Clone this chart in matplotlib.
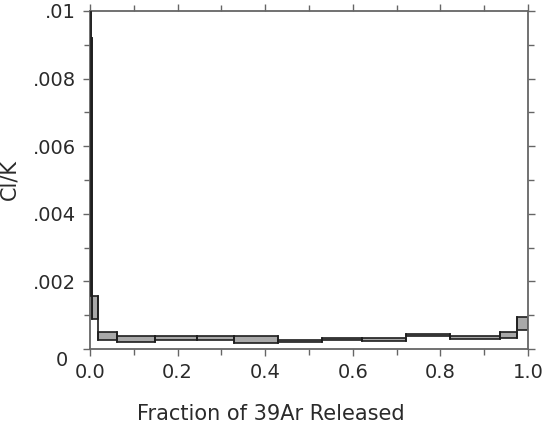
import matplotlib
matplotlib.use("Agg")
import matplotlib.pyplot as plt
from matplotlib.patches import Rectangle
from matplotlib.transforms import ScaledTranslation
from matplotlib.ticker import MultipleLocator

# Cumulative fraction of 39Ar released at each step boundary
fraction_edges = [0.0, 0.0016, 0.0053, 0.019, 0.0623, 0.1477, 0.2436, 0.3295,
                  0.4299, 0.5304, 0.6217, 0.7215, 0.8219, 0.9368, 0.9742, 1.0]
# Cl/K lower and upper bounds for each heating step
clk_low = [0.0092, 0.00157, 0.00088, 0.00026, 0.00021, 0.00027, 0.00027,
           0.00019, 0.00020, 0.00026, 0.00025, 0.00038, 0.00030, 0.00032, 0.00057]
clk_high = [0.0130, 0.0092, 0.00157, 0.00051, 0.00038, 0.00038, 0.00038,
            0.00039, 0.00026, 0.00032, 0.00032, 0.00045, 0.00038, 0.00051, 0.00095]
fill_colors = ["#2a2a2a"] + ["#a9a9a9"] * 14

x_ticks = [0.0, 0.2, 0.4, 0.6, 0.8, 1.0]
x_tick_labels = ["0.0", "0.2", "0.4", "0.6", "0.8", "1.0"]
y_ticks = [0.0, 0.002, 0.004, 0.006, 0.008, 0.01]
y_tick_labels = ["0", ".002", ".004", ".006", ".008", ".01"]

plt.rcParams["font.family"] = ["DejaVu Sans"]

fig = plt.figure(figsize=(5.5, 4.33), dpi=100)
ax = fig.add_axes([90 / 550, 1 - 349 / 433, 438 / 550, 338 / 433])

edge = "#1e1e1e"
for i in range(len(clk_low)):
    x0, x1 = fraction_edges[i], fraction_edges[i + 1]
    ax.add_patch(Rectangle((x0, clk_low[i]), x1 - x0, clk_high[i] - clk_low[i],
                           facecolor=fill_colors[i], edgecolor=edge,
                           linewidth=1.2, zorder=2))

# vertical risers joining neighbouring steps
for i in range(len(clk_low) - 1):
    xb = fraction_edges[i + 1]
    lo = min(clk_low[i], clk_low[i + 1])
    hi = max(clk_high[i], clk_high[i + 1])
    ax.plot([xb, xb], [lo, hi], color=edge, linewidth=1.2, zorder=3)

ax.set_xlim(0, 1.0)
ax.set_ylim(0, 0.01)
ax.set_xticks(x_ticks)
ax.set_xticklabels(x_tick_labels)
ax.set_yticks(y_ticks)
ax.set_yticklabels(y_tick_labels)
ax.xaxis.set_minor_locator(MultipleLocator(0.1))
ax.yaxis.set_minor_locator(MultipleLocator(0.001))

spine_color = "#666666"
for s in ax.spines.values():
    s.set_color(spine_color)
    s.set_linewidth(1.3)

ax.tick_params(which="both", direction="out", top=True, right=True,
               color=spine_color, width=1.0, labelsize=14,
               labelcolor="#2a2a2a")
ax.tick_params(which="major", length=5)
ax.tick_params(which="minor", length=4)
ax.tick_params(axis="x", pad=5)
ax.tick_params(axis="y", pad=5)

# the origin label sits a little below and left of the axis corner
zero_lbl = ax.get_yticklabels()[0]
zero_lbl.set_transform(zero_lbl.get_transform() +
                       ScaledTranslation(-0.08, -0.10, fig.dpi_scale_trans))

ax.set_xlabel("Fraction of 39Ar Released", fontsize=15, color="#2a2a2a")
ax.xaxis.set_label_coords(0.413, -0.163)
ax.set_ylabel("Cl/K", fontsize=15, color="#2a2a2a")
ax.yaxis.set_label_coords(-0.162, 0.5)

fig.savefig("out.png", dpi=100)
